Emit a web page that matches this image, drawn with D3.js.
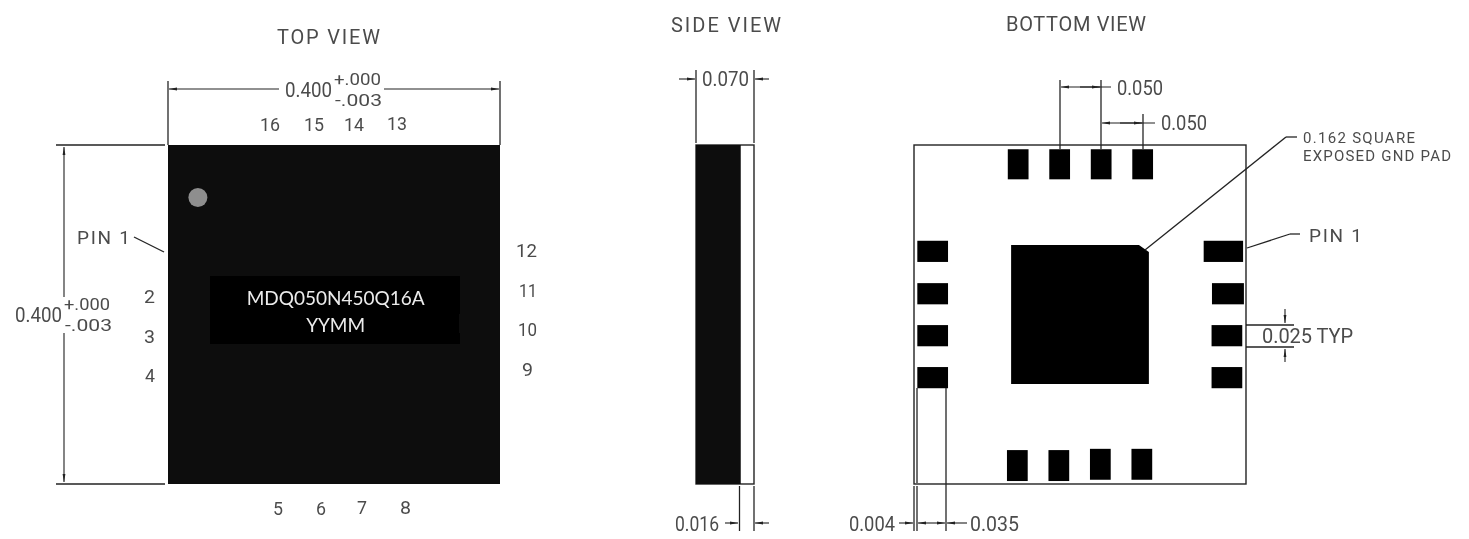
<!DOCTYPE html>
<html>
<head>
<meta charset="utf-8">
<script src="https://cdnjs.cloudflare.com/ajax/libs/d3/7.8.5/d3.min.js"></script>
<style>
  html, body { margin: 0; background: #fff; }
  svg { display: block; }
  .cad { font-family: Roboto, "Liberation Sans", sans-serif; font-weight: 400; fill: #4c4c4c; }
  .mark { font-family: Lato, "Open Sans", sans-serif; fill: #ececec; }
  .ln { stroke: #222; fill: none; }
</style>
</head>
<body>
<svg id="chart" width="1469" height="539"></svg>
<script>
// package geometry, all in inches from the package corner
var bodySize = 0.4;
var sideThick = 0.07;
var sideLid = 0.016;

var topPadX = [0.113, 0.163, 0.213, 0.263];
var topPadY = 0.005;
var topPadW = 0.025;
var topPadH = 0.0355;

var bottomPadX = [0.112, 0.162, 0.212, 0.262];
var bottomPadY = [0.360, 0.360, 0.3585, 0.3585];
var bottomPadH = 0.0365;

var leftPadX = 0.004;
var leftPadW = 0.037;
var rowPadY = [0.113, 0.163, 0.2125, 0.262];
var rowPadH = 0.025;

var rightPadX = [0.349, 0.359, 0.3585, 0.3585];
var rightPadW = [0.0475, 0.0385, 0.037, 0.037];

var centerPad = [0.117, 0.118, 0.283, 0.282];
var chamfer = 0.012;

// text: label, left, right, middle y, font size
var labels = [
  ["TOP VIEW", 277, 380, 37, 20],
  ["SIDE VIEW", 671, 781, 25, 20],
  ["BOTTOM VIEW", 1006, 1146, 24, 20],
  ["0.400", 285, 332, 90, 20],
  ["+.000", 334, 381, 79, 17],
  ["-.003", 335, 382, 100, 17],
  ["0.400", 15, 62, 315, 20],
  ["+.000", 64, 110, 304, 17],
  ["-.003", 65, 112, 325, 17],
  ["PIN 1", 77, 130, 237, 19],
  ["16", 260, 280, 124, 19],
  ["15", 304, 324, 124, 19],
  ["14", 344, 364, 124, 19],
  ["13", 387, 407, 123, 19],
  ["5", 273, 283, 508, 19],
  ["6", 316, 326, 508, 19],
  ["7", 357, 367, 507, 19],
  ["8", 400, 411, 507, 19],
  ["2", 144, 155, 296, 19],
  ["3", 144, 155, 336, 19],
  ["4", 145, 155, 375, 19],
  ["12", 516, 537, 250, 19],
  ["11", 519, 537, 290, 19],
  ["10", 518, 537, 329, 19],
  ["9", 522, 533, 369, 19],
  ["0.070", 702, 749, 79, 20],
  ["0.016", 675, 719, 524, 20],
  ["0.004", 849, 895, 524, 20],
  ["0.035", 970, 1019, 524, 20],
  ["0.050", 1117, 1163, 88, 20],
  ["0.050", 1161, 1207, 123, 20],
  ["0.162 SQUARE", 1303, 1415, 138, 15],
  ["EXPOSED GND PAD", 1303, 1451, 156, 15],
  ["PIN 1", 1309, 1362, 235, 19],
  ["0.025 TYP", 1262, 1353, 336, 20]
];

var markText = ["MDQ050N450Q16A", "YYMM"];

// leader and dimension strokes: page x1, y1, x2, y2
var guideLines = [
  [168, 81, 168, 145], [500, 81, 500, 145],
  [56, 145, 165, 145], [56, 484, 165, 484],
  [134, 237, 164, 252],
  [696, 70, 696, 143], [754, 70, 754, 143],
  [739.5, 486, 739.5, 531], [754, 486, 754, 531],
  [914, 486, 914, 531], [917, 486, 917, 531], [946, 388, 946, 531],
  [917, 388, 917, 483],
  [1060, 80, 1060, 149], [1101, 80, 1101, 149], [1143, 114, 1143, 149],
  [1246, 325, 1294, 325], [1246, 347, 1294, 347],
  [1145, 250, 1286, 137], [1286, 137, 1297, 137],
  [1247, 248, 1290, 234], [1290, 234, 1300, 234]
];

// dimension strokes ending in an arrow at x2, y2
var arrowLines = [
  [279, 89, 169, 89], [384, 89, 499, 89],
  [64, 297, 64, 147], [64, 333, 64, 482],
  [679, 79, 695, 79], [769, 79, 755, 79],
  [725, 523, 738, 523], [769, 523, 755, 523],
  [899, 523, 913, 523], [932, 523, 918, 523], [932, 523, 945, 523], [967, 523, 947, 523],
  [1111, 87, 1061, 87], [1080, 87, 1100, 87],
  [1155, 123, 1102, 123], [1120, 123, 1142, 123],
  [1285, 309, 1285, 323], [1285, 362, 1285, 349]
];

var x0 = d3.scaleLinear().domain([0, bodySize]).range([168, 500]);
var y0 = d3.scaleLinear().domain([0, bodySize]).range([145, 484]);
var xs = d3.scaleLinear().domain([0, sideThick]).range([696, 754]);
var xb = d3.scaleLinear().domain([0, bodySize]).range([914, 1246]);
var yb = d3.scaleLinear().domain([0, bodySize]).range([145, 484]);

var svg = d3.select("#chart");
var defs = svg.append("defs");

var hatch = defs.append("pattern")
  .attr("id", "hatch")
  .attr("width", 46)
  .attr("height", 46)
  .attr("patternUnits", "userSpaceOnUse")
  .attr("patternTransform", "rotate(42)");
hatch.append("rect").attr("width", 46).attr("height", 46).attr("fill", "#0a0a0a");
hatch.append("rect").attr("width", 12).attr("height", 46).attr("fill", "#0e0e0e");

defs.append("marker")
  .attr("id", "arr")
  .attr("viewBox", "0 0 8 4")
  .attr("refX", 8)
  .attr("refY", 2)
  .attr("markerWidth", 8)
  .attr("markerHeight", 4)
  .attr("markerUnits", "userSpaceOnUse")
  .attr("orient", "auto")
  .append("path")
  .attr("d", "M0,0.6L8,2L0,3.4Z")
  .attr("fill", "#222");

defs.append("filter")
  .attr("id", "soft")
  .append("feGaussianBlur")
  .attr("stdDeviation", 0.35);

var g = svg.append("g").attr("filter", "url(#soft)");

// top view
g.append("rect")
  .attr("x", x0(0))
  .attr("y", y0(0))
  .attr("width", x0(bodySize) - x0(0))
  .attr("height", y0(bodySize) - y0(0))
  .attr("fill", "url(#hatch)");

g.append("rect")
  .attr("x", x0(0.051))
  .attr("y", y0(0.1545))
  .attr("width", x0(0.351) - x0(0.051))
  .attr("height", y0(0.235) - y0(0.1545))
  .attr("fill", "#000");

g.append("circle")
  .attr("cx", x0(0.036))
  .attr("cy", y0(0.062))
  .attr("r", 9.5)
  .attr("fill", "#8e8e8e");

g.selectAll(".mark")
  .data(markText)
  .enter().append("text")
  .attr("class", "mark")
  .attr("x", x0(0.202))
  .attr("y", function (d, i) { return 298 + i * 27; })
  .attr("dy", ".35em")
  .attr("text-anchor", "middle")
  .attr("font-size", 19)
  .text(function (d) { return d; });

// side view
g.append("rect")
  .attr("x", xs(0))
  .attr("y", yb(0))
  .attr("width", xs(sideThick) - xs(0))
  .attr("height", yb(bodySize) - yb(0))
  .attr("fill", "#fff")
  .attr("stroke", "#222")
  .attr("stroke-width", 1.4);

g.append("rect")
  .attr("x", xs(0))
  .attr("y", yb(0))
  .attr("width", xs(sideThick - sideLid) - xs(0))
  .attr("height", yb(bodySize) - yb(0))
  .attr("fill", "url(#hatch)");

// bottom view
g.append("rect")
  .attr("x", xb(0))
  .attr("y", yb(0))
  .attr("width", xb(bodySize) - xb(0))
  .attr("height", yb(bodySize) - yb(0))
  .attr("fill", "#fff")
  .attr("stroke", "#222")
  .attr("stroke-width", 1.4);

function pads(rows) {
  g.append("g").selectAll("rect")
    .data(rows)
    .enter().append("rect")
    .attr("x", function (d) { return xb(d.x); })
    .attr("y", function (d) { return yb(d.y); })
    .attr("width", function (d) { return xb(d.x + d.w) - xb(d.x); })
    .attr("height", function (d) { return yb(d.y + d.h) - yb(d.y); })
    .attr("fill", "#000");
}

pads(topPadX.map(function (d) { return {x: d, y: topPadY, w: topPadW, h: topPadH}; }));
pads(bottomPadX.map(function (d, i) { return {x: d, y: bottomPadY[i], w: topPadW, h: bottomPadH}; }));
pads(rowPadY.map(function (d) { return {x: leftPadX, y: d, w: leftPadW, h: rowPadH}; }));
pads(rowPadY.map(function (d, i) { return {x: rightPadX[i], y: d, w: rightPadW[i], h: rowPadH}; }));

var cx1 = centerPad[0], cy1 = centerPad[1], cx2 = centerPad[2], cy2 = centerPad[3];
g.append("path")
  .attr("d", d3.line()([
    [xb(cx1), yb(cy1)],
    [xb(cx2 - chamfer), yb(cy1)],
    [xb(cx2), yb(cy1 + chamfer * 0.7)],
    [xb(cx2), yb(cy2)],
    [xb(cx1), yb(cy2)]
  ]) + "Z")
  .attr("fill", "#000");

// dimensions and leaders
g.append("g").selectAll("line")
  .data(guideLines)
  .enter().append("line")
  .attr("class", "ln")
  .attr("stroke-width", 1.3)
  .attr("x1", function (d) { return d[0]; })
  .attr("y1", function (d) { return d[1]; })
  .attr("x2", function (d) { return d[2]; })
  .attr("y2", function (d) { return d[3]; });

g.append("g").selectAll("line")
  .data(arrowLines)
  .enter().append("line")
  .attr("class", "ln")
  .attr("stroke-width", 1.1)
  .attr("marker-end", "url(#arr)")
  .attr("x1", function (d) { return d[0]; })
  .attr("y1", function (d) { return d[1]; })
  .attr("x2", function (d) { return d[2]; })
  .attr("y2", function (d) { return d[3]; });

g.append("g").selectAll("text")
  .data(labels)
  .enter().append("text")
  .attr("class", "cad")
  .attr("x", function (d) { return d[1]; })
  .attr("y", function (d) { return d[3]; })
  .attr("dy", ".35em")
  .attr("font-size", function (d) { return d[4]; })
  .attr("textLength", function (d) { return d[2] - d[1]; })
  .attr("lengthAdjust", function (d) { return d[0].indexOf(" ") > 0 ? "spacing" : "spacingAndGlyphs"; })
  .text(function (d) { return d[0]; });
</script>
</body>
</html>
